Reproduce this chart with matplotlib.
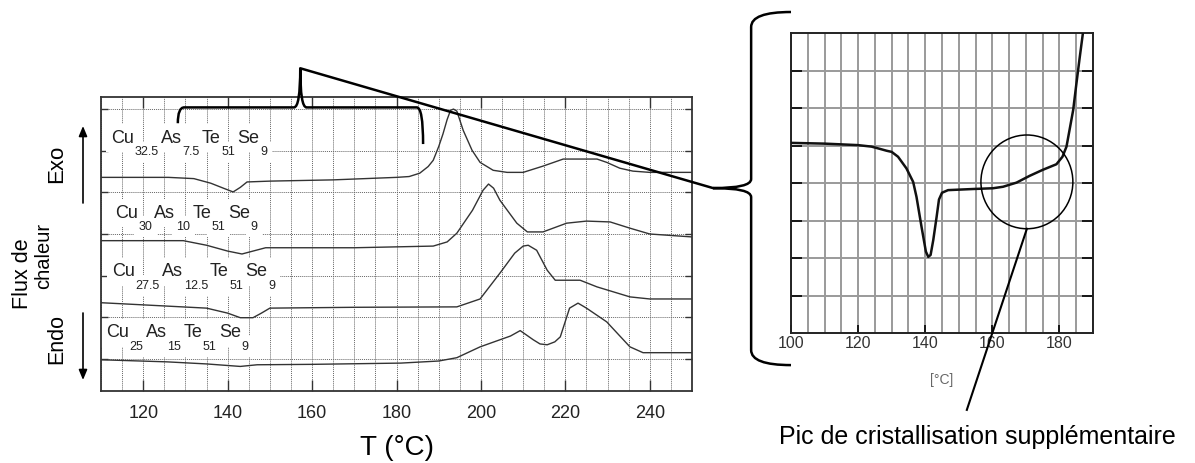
import numpy as np
import matplotlib.pyplot as plt
from matplotlib.path import Path
from matplotlib.patches import PathPatch, Ellipse, FancyArrowPatch, ConnectionPatch
from matplotlib.ticker import MultipleLocator

plt.rcParams['font.family'] = ['Liberation Sans', 'DejaVu Sans']

# --- courbes DSC (T en °C, flux en unités de grille, décalées) ---
T1 = [110, 126, 132, 136, 139, 141.3, 143, 144.6, 150, 165, 180, 183, 185.5, 187.5, 188.7, 190, 191, 192,
      192.8, 193.5, 194.3, 195.8, 197.9, 199.8, 202.9, 206.2, 210, 214.7, 219.5, 227.5, 229.8, 232.9,
      236, 240, 250]
y1 = [4.36, 4.36, 4.33, 4.22, 4.10, 4.01, 4.12, 4.25, 4.27, 4.30, 4.36, 4.38, 4.46, 4.62, 4.77, 5.10, 5.40, 5.75,
      5.97, 6.00, 5.95, 5.49, 5.01, 4.72, 4.53, 4.48, 4.48, 4.63, 4.80, 4.80, 4.72, 4.58,
      4.51, 4.48, 4.48]

T2 = [110, 129.5, 135, 140, 143.4, 146, 149, 170, 188.7, 192, 194.3, 198, 200.5, 201.8, 203, 204.5,
      208.5, 211, 214.7, 220.3, 225, 230.6, 235.3, 240, 250]
y2 = [2.84, 2.84, 2.73, 2.59, 2.52, 2.59, 2.67, 2.67, 2.71, 2.81, 3.02, 3.57, 4.05, 4.20, 4.10, 3.81,
      3.26, 3.05, 3.05, 3.26, 3.31, 3.29, 3.14, 3.00, 2.93]

T3 = [110, 121.6, 135, 140, 143, 146, 148, 150, 170, 194.3, 199.8, 204.5, 208, 210, 211.2, 213.2,
      215.7, 217.6, 220, 223.5, 227.5, 235.3, 240, 250]
y3 = [1.35, 1.29, 1.22, 1.10, 0.99, 0.99, 1.10, 1.22, 1.24, 1.25, 1.44, 2.06, 2.54, 2.71, 2.73, 2.61,
      2.13, 1.89, 1.89, 1.89, 1.73, 1.49, 1.44, 1.44]

T4 = [110, 125.6, 135, 143, 147, 160, 181, 190, 194.3, 199.8, 204.5, 207, 209.3, 212.4, 214, 215.7,
      217.5, 218.8, 221, 223, 225, 229.8, 235.3, 238.4, 250]
y4 = [-0.02, -0.07, -0.12, -0.18, -0.14, -0.13, -0.10, -0.05, 0.03, 0.29, 0.46, 0.55, 0.68, 0.46, 0.36, 0.34,
      0.41, 0.53, 1.22, 1.34, 1.22, 0.89, 0.29, 0.15, 0.15]

labels = [
    [('Cu', '32.5'), ('As', '7.5'), ('Te', '51'), ('Se', '9')],
    [('Cu', '30'), ('As', '10'), ('Te', '51'), ('Se', '9')],
    [('Cu', '27.5'), ('As', '12.5'), ('Te', '51'), ('Se', '9')],
    [('Cu', '25'), ('As', '15'), ('Te', '51'), ('Se', '9')],
]
label_pos = [(112.4, 5.10), (113.3, 3.30), (112.6, 1.89), (111.2, 0.42)]

# --- zoom (courbe de Cu32.5As7.5Te51Se9) ---
Ti = [100, 110, 120, 124, 126.5, 128.5, 130, 131.9, 134.4, 136.4, 137.4, 138.9, 140.2, 140.9, 141.6,
      142.4, 143.4, 144.1, 145, 146.8, 154.3, 160.2, 163.2, 167.2, 171.1, 175, 179.1, 180.9, 182.1,
      183, 184.1, 185, 186, 187]
yi = [5.07, 5.05, 5.01, 4.97, 4.91, 4.86, 4.83, 4.70, 4.39, 4.03, 3.63, 2.83, 2.17, 2.03, 2.08,
      2.48, 3.10, 3.56, 3.74, 3.81, 3.84, 3.86, 3.90, 4.01, 4.19, 4.35, 4.50, 4.70, 4.97,
      5.41, 5.95, 6.61, 7.32, 8.0]

W, H = 1195, 463
fig = plt.figure(figsize=(W / 100, H / 100), dpi=100)
ax = fig.add_axes([101 / W, 1 - 391 / H, 591 / W, 294 / H])
ax2 = fig.add_axes([791 / W, 1 - 333 / H, 302 / W, 300 / H])

# ---------------- graphique principal ----------------
for T, y in [(T1, y1), (T2, y2), (T3, y3), (T4, y4)]:
    ax.plot(T, y, color='#333333', lw=1.0, zorder=4)

ax.set_xlim(110, 250)
ax.set_ylim(-0.77, 6.29)
ax.xaxis.set_major_locator(MultipleLocator(20))
ax.xaxis.set_minor_locator(MultipleLocator(5))
ax.set_yticks(range(0, 7))
ax.set_yticklabels([])
ax.grid(which='both', axis='x', ls=(0, (1, 1)), color='#666666', lw=0.7, zorder=0)
ax.grid(which='major', axis='y', ls=(0, (1, 1)), color='#666666', lw=0.7, zorder=0)
ax.tick_params(axis='x', which='major', direction='in', length=8, width=1.0, top=True,
               labelsize=13, pad=10, color='#333333', labelcolor='#222222')
ax.tick_params(axis='x', which='minor', length=0)
ax.tick_params(axis='y', direction='in', length=5, width=1.0, right=True, color='#333333')
for s in ax.spines.values():
    s.set_color('#333333')
    s.set_linewidth(1.3)
ax.set_axisbelow(True)


def formula(ax, x, y, parts, bg):
    # bg=True : fond blanc seul (texte invisible), bg=False : texte seul
    col = 'none' if bg else '#222222'
    z = 2.5 if bg else 3

    def box(pad):
        return dict(boxstyle='square,pad=%g' % pad, fc='white', ec='none') if bg else None

    base = None
    prev = None
    for el, sub in parts:
        kw = dict(fontsize=13, va='bottom', color=col, zorder=z, bbox=box(0.3))
        if base is None:
            e = ax.text(x, y, el, **kw)
            base = e
        else:
            e = ax.annotate(el, xy=(1, 0), xycoords=(prev, base), xytext=(1.5, 0),
                            textcoords='offset points', **kw)
        s = ax.annotate(sub, xy=(1, 0), xycoords=e, xytext=(0.5, -6), textcoords='offset points',
                        fontsize=9, va='baseline', color=col, zorder=z, bbox=box(0.35))
        prev = s


for parts, (x, y) in zip(labels, label_pos):
    formula(ax, x, y, parts, True)
    formula(ax, x, y, parts, False)

fig.text(397 / W, 1 - 448 / H, 'T (°C)', fontsize=20, ha='center', va='center')

# étiquettes de l'axe des ordonnées
fig.text(22 / W, 1 - 274 / H, 'Flux de', rotation=90, fontsize=15.5, ha='center', va='center')
fig.text(44 / W, 1 - 256 / H, 'chaleur', rotation=90, fontsize=14.5, ha='center', va='center')
fig.text(57 / W, 1 - 164 / H, 'Exo', rotation=90, fontsize=16, ha='center', va='center')
fig.text(57 / W, 1 - 339 / H, 'Endo', rotation=90, fontsize=15.5, ha='center', va='center')
for a, b in [((83, 203), (83, 126)), ((83, 313), (83, 380))]:
    fig.patches.append(FancyArrowPatch((a[0] / W, 1 - a[1] / H), (b[0] / W, 1 - b[1] / H),
                                       transform=fig.transFigure, arrowstyle='-|>,head_length=6,head_width=2.5',
                                       lw=1.2, color='black', shrinkA=0, shrinkB=0))

# accolade horizontale (plage agrandie)
tL, tR, tip = 128.2, 186.3, 157.2
ybar, ytip = 6.04, 6.98
verts = [(tL, 5.66), (tL, ybar), (tL + 1.5, ybar), (tip - 1.5, ybar), (tip, ybar), (tip, ytip),
         (tip, ybar), (tip + 1.5, ybar), (tR - 1.5, ybar), (tR, ybar), (tR, 5.16)]
codes = [Path.MOVETO, Path.CURVE3, Path.CURVE3, Path.LINETO, Path.CURVE3, Path.CURVE3,
         Path.CURVE3, Path.CURVE3, Path.LINETO, Path.CURVE3, Path.CURVE3]
ax.add_patch(PathPatch(Path(verts, codes), fc='none', ec='black', lw=1.8, clip_on=False, zorder=6))

# ---------------- zoom ----------------
ax2.plot(Ti, yi, color='#111111', lw=1.8, zorder=4)
ax2.set_xlim(100, 190)
ax2.set_ylim(0, 8)
ax2.set_xticks([100, 120, 140, 160, 180])
ax2.xaxis.set_minor_locator(MultipleLocator(5))
ax2.set_yticks(range(1, 8))
ax2.set_yticklabels([])
ax2.grid(which='both', axis='x', color='#9a9a9a', lw=1.4, zorder=0)
ax2.grid(which='major', axis='y', color='#9a9a9a', lw=1.4, zorder=0)
ax2.tick_params(axis='x', which='major', direction='in', length=6, width=1.2, labelsize=11.5,
                labelcolor='#333333', pad=2)
ax2.tick_params(axis='x', which='minor', length=0)
ax2.tick_params(axis='y', direction='in', length=8, width=1.2, right=True)
for s in ax2.spines.values():
    s.set_linewidth(1.4)
    s.set_color('#222222')
ax2.set_xlabel('[°C]', fontsize=10, color='#666666', labelpad=16)

ax2.add_patch(Ellipse((170.3, 4.03), 27.4, 2.5, fc='none', ec='black', lw=1.1, zorder=5))
ax2.plot([170.3, 152.4], [2.78, -2.05], color='black', lw=1.5, clip_on=False, zorder=6)
ax2.text(155.4, -2.77, 'Pic de cristallisation supplémentaire', fontsize=18,
         ha='center', va='center')

# grande accolade verticale (coordonnées relatives au zoom)
bx, px_, top, bot, ym = -0.132, -0.258, 1.07, -0.107, 0.483
verts = [(0.0, top), (bx, top), (bx, top - 0.05), (bx, ym + 0.03), (bx, ym), (px_, ym),
         (bx, ym), (bx, ym - 0.03), (bx, bot + 0.05), (bx, bot), (0.0, bot)]
codes = [Path.MOVETO, Path.CURVE3, Path.CURVE3, Path.LINETO, Path.CURVE3, Path.CURVE3,
         Path.CURVE3, Path.CURVE3, Path.LINETO, Path.CURVE3, Path.CURVE3]
ax2.add_patch(PathPatch(Path(verts, codes), fc='none', ec='black', lw=1.8, clip_on=False,
                        transform=ax2.transAxes, zorder=6))

fig.add_artist(ConnectionPatch((tip, ytip), (px_, ym), coordsA=ax.transData, coordsB=ax2.transAxes,
                               color='black', lw=1.8, zorder=7))

fig.savefig('out.png', dpi=100)
